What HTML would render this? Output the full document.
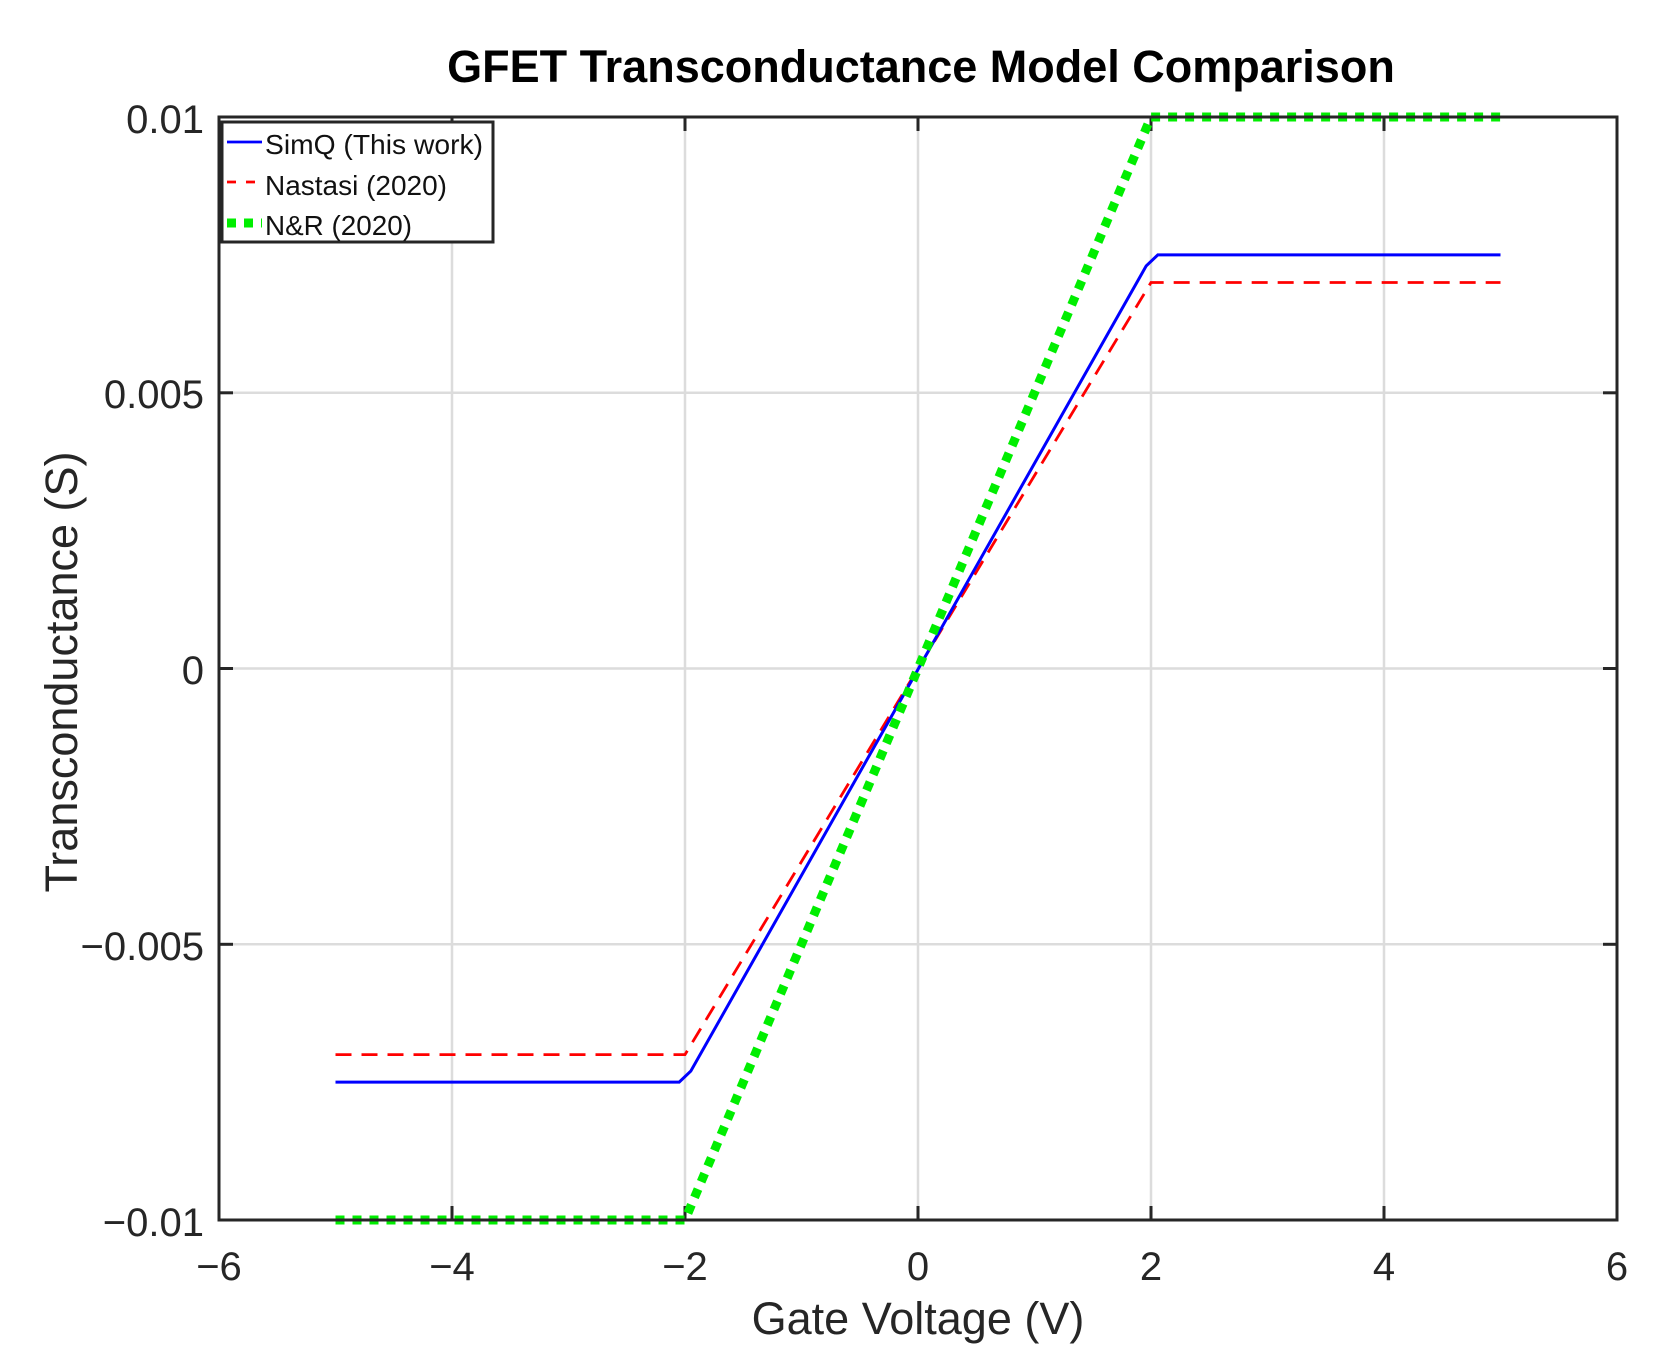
<!DOCTYPE html>
<html><head><meta charset="utf-8"><style>
html,body{margin:0;padding:0;background:#fff;}
svg{display:block;font-family:"Liberation Sans",sans-serif;}
</style></head><body>
<svg width="1653" height="1361" viewBox="0 0 1653 1361" xmlns="http://www.w3.org/2000/svg">
<rect width="1653" height="1361" fill="#fff"/>
<g stroke="#dcdcdc" stroke-width="2.5">
<line x1="452" y1="117" x2="452" y2="1220"/>
<line x1="685" y1="117" x2="685" y2="1220"/>
<line x1="918" y1="117" x2="918" y2="1220"/>
<line x1="1151" y1="117" x2="1151" y2="1220"/>
<line x1="1384" y1="117" x2="1384" y2="1220"/>
<line x1="219" y1="392.8" x2="1617" y2="392.8"/>
<line x1="219" y1="668.5" x2="1617" y2="668.5"/>
<line x1="219" y1="944.3" x2="1617" y2="944.3"/>
</g>
<g stroke="#262626" stroke-width="3">
<line x1="452" y1="1220" x2="452" y2="1206"/><line x1="685" y1="1220" x2="685" y2="1206"/><line x1="918" y1="1220" x2="918" y2="1206"/><line x1="1151" y1="1220" x2="1151" y2="1206"/><line x1="1384" y1="1220" x2="1384" y2="1206"/>
<line x1="452" y1="117" x2="452" y2="131"/><line x1="685" y1="117" x2="685" y2="131"/><line x1="918" y1="117" x2="918" y2="131"/><line x1="1151" y1="117" x2="1151" y2="131"/><line x1="1384" y1="117" x2="1384" y2="131"/>
<line x1="219" y1="392.8" x2="233" y2="392.8"/><line x1="219" y1="668.5" x2="233" y2="668.5"/><line x1="219" y1="944.3" x2="233" y2="944.3"/>
<line x1="1617" y1="392.8" x2="1603" y2="392.8"/><line x1="1617" y1="668.5" x2="1603" y2="668.5"/><line x1="1617" y1="944.3" x2="1603" y2="944.3"/>
</g>
<polyline fill="none" stroke="#ff0000" stroke-width="2.8" stroke-dasharray="16,10" points="335.5,1054.6 685,1054.6 1151,282.5 1500.5,282.5"/>
<polyline fill="none" stroke="#0000ff" stroke-width="3" points="335.5,1082.1 679.2,1082.1 690.8,1071.1 1146.2,265.9 1157.8,254.9 1500.5,254.9"/>
<polyline fill="none" stroke="#00ee00" stroke-width="9" stroke-dasharray="9,8" points="335.5,1220 685,1220 1151,117 1500.5,117"/>
<rect x="219" y="117" width="1398" height="1103" fill="none" stroke="#262626" stroke-width="3"/>
<rect x="222" y="122" width="271" height="120" fill="#fff" stroke="#262626" stroke-width="3"/>
<line x1="227" y1="142" x2="262" y2="142" stroke="#0000ff" stroke-width="2.8"/>
<line x1="227" y1="182" x2="262" y2="182" stroke="#ff0000" stroke-width="2.8" stroke-dasharray="9,10"/>
<line x1="227" y1="223" x2="262" y2="223" stroke="#00ee00" stroke-width="9" stroke-dasharray="9,8"/>
<g font-size="28" fill="#111">
<text x="265" y="154" textLength="218" lengthAdjust="spacingAndGlyphs">SimQ (This work)</text>
<text x="265" y="195" textLength="182" lengthAdjust="spacingAndGlyphs">Nastasi (2020)</text>
<text x="265" y="235" textLength="147" lengthAdjust="spacingAndGlyphs">N&amp;R (2020)</text>
</g>
<g font-size="40" fill="#262626" text-anchor="middle">
<text x="219" y="1280">−6</text><text x="452" y="1280">−4</text><text x="685" y="1280">−2</text><text x="918" y="1280">0</text><text x="1151" y="1280">2</text><text x="1384" y="1280">4</text><text x="1617" y="1280">6</text>
</g>
<g font-size="40" fill="#262626" text-anchor="end">
<text x="204" y="133">0.01</text><text x="204" y="408">0.005</text><text x="204" y="684">0</text><text x="204" y="960">−0.005</text><text x="204" y="1236">−0.01</text>
</g>
<text x="918" y="1334" font-size="45" fill="#262626" text-anchor="middle">Gate Voltage (V)</text>
<text transform="translate(77,672) rotate(-90)" font-size="45" fill="#262626" text-anchor="middle">Transconductance (S)</text>
<text x="921" y="82" font-size="45" font-weight="bold" fill="#000" text-anchor="middle">GFET Transconductance Model Comparison</text>
</svg>
</body></html>
